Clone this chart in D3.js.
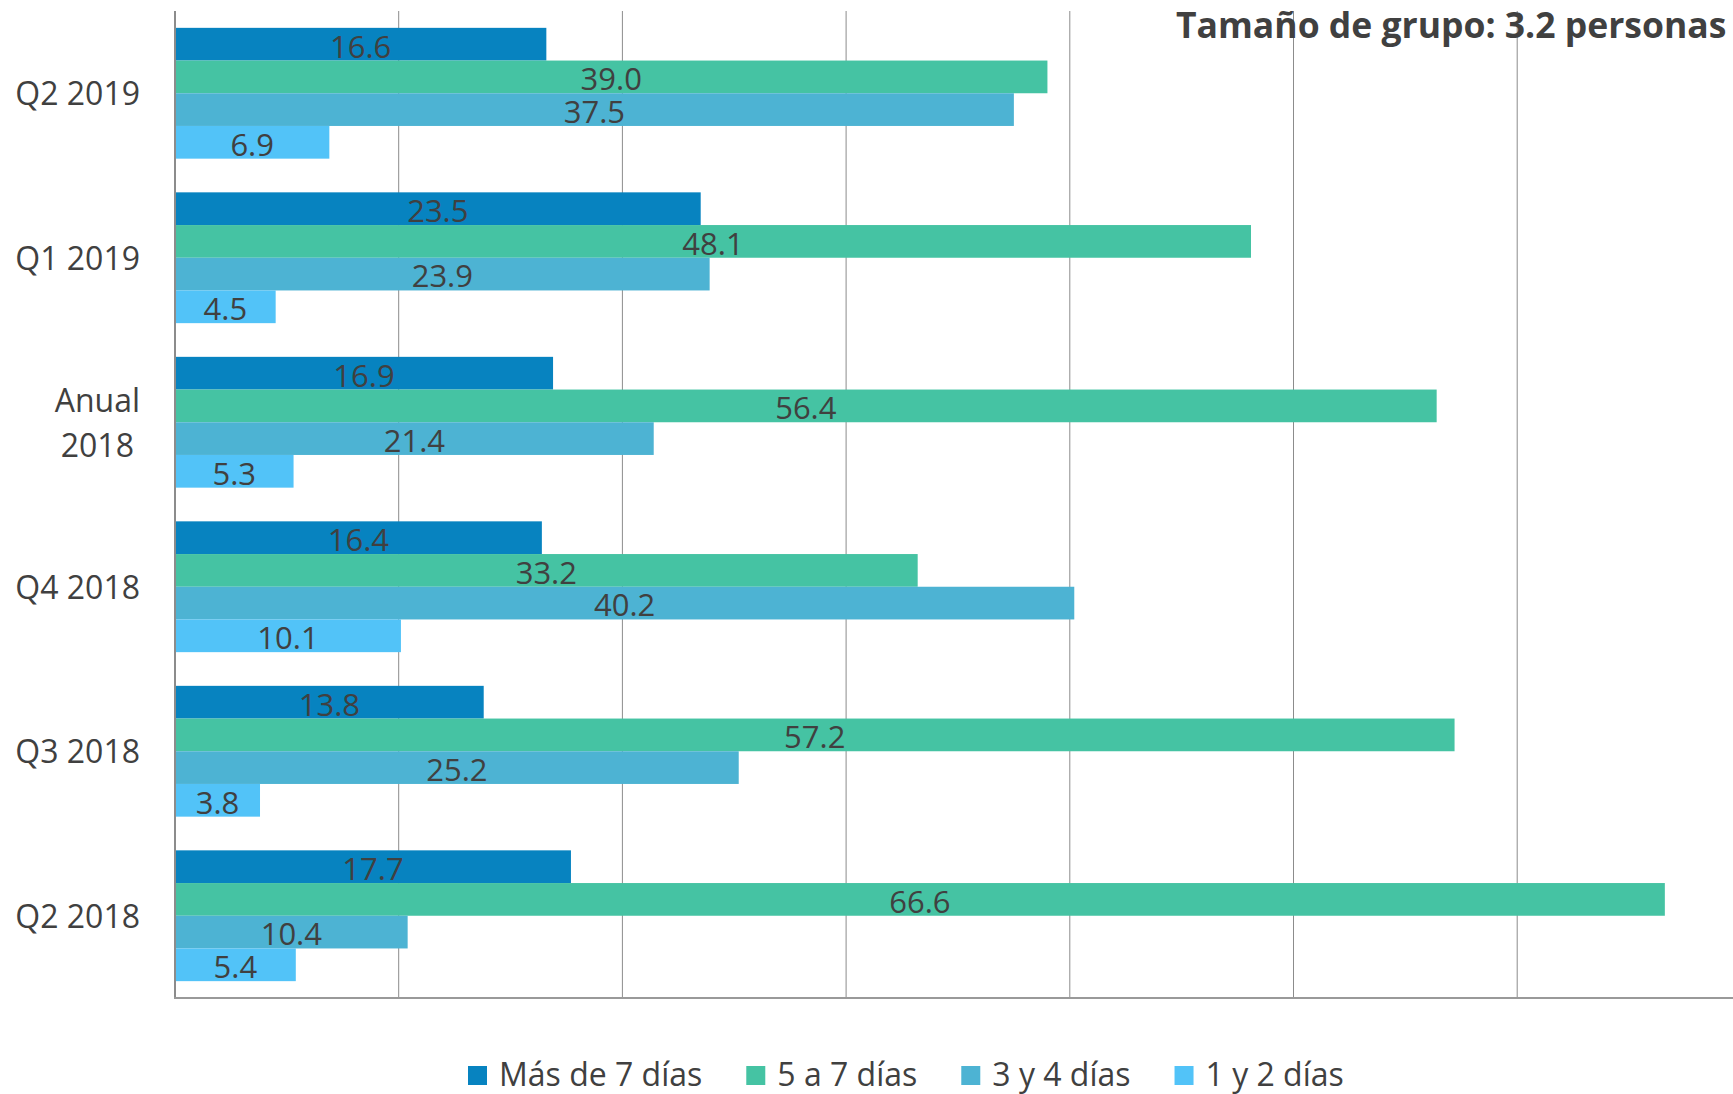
<meta charset="utf-8">

<style>
  body {
    margin: 0;
    background: #fff;
  }
  text {
    font-family: "Open Sans", sans-serif;
    fill: #404040;
  }
  .grid line {
    stroke: #8c8c8c;
    stroke-width: 1;
  }
</style>

<body>
  <script src="https://d3js.org/d3.v7.min.js" charset="utf-8"></script>

<script>

  // data, top group first
  const categories = ["Q2 2019", "Q1 2019", "Anual 2018", "Q4 2018", "Q3 2018", "Q2 2018"];
  const series = ["Más de 7 días", "5 a 7 días", "3 y 4 días", "1 y 2 días"];
  const masDe7 = [16.6, 23.5, 16.9, 16.4, 13.8, 17.7];
  const cincoA7 = [39.0, 48.1, 56.4, 33.2, 57.2, 66.6];
  const tresY4 = [37.5, 23.9, 21.4, 40.2, 25.2, 10.4];
  const unoY2 = [6.9, 4.5, 5.3, 10.1, 3.8, 5.4];
  const gridTicks = [10, 20, 30, 40, 50, 60];
  const title = "Tamaño de grupo: 3.2 personas";

  const colors = ["#0783c0", "#45c3a3", "#4db3d3", "#52c3f8"];
  const values = [masDe7, cincoA7, tresY4, unoY2];

  const width = 1733;
  const height = 1094;
  const margin = { top: 11, bottom: 96, left: 175 };

  const svg = d3
    .select("body")
    .append("svg")
    .attr("width", width)
    .attr("height", height);

  // the chart is cut on the right, 70 falls just past the edge
  const x = d3.scaleLinear().domain([0, 70]).range([margin.left, margin.left + 70 * 22.37]);

  const y = d3
    .scaleBand()
    .domain(categories)
    .range([margin.top, height - margin.bottom]);

  const ySeries = d3
    .scaleBand()
    .domain(series)
    .range([0, y.bandwidth()])
    .paddingOuter(0.515);

  // gridlines
  svg
    .append("g")
    .attr("class", "grid")
    .selectAll("line")
    .data(gridTicks)
    .join("line")
    .attr("x1", d => x(d))
    .attr("x2", d => x(d))
    .attr("y1", margin.top)
    .attr("y2", height - margin.bottom);

  // bars
  const rows = [];
  categories.forEach((c, i) => {
    series.forEach((s, j) => {
      rows.push({ cat: c, s: s, v: values[j][i], color: colors[j] });
    });
  });

  const group = svg.append("g");

  group
    .selectAll("rect")
    .data(rows)
    .join("rect")
    .attr("x", x(0))
    .attr("y", d => y(d.cat) + ySeries(d.s))
    .attr("width", d => x(d.v) - x(0))
    .attr("height", ySeries.bandwidth())
    .style("fill", d => d.color);

  group
    .selectAll("text")
    .data(rows)
    .join("text")
    .attr("x", d => (x(0) + x(d.v)) / 2)
    .attr("y", d => y(d.cat) + ySeries(d.s) + ySeries.bandwidth() - 3)
    .attr("text-anchor", "middle")
    .style("font-size", "31px")
    .text(d => d.v.toFixed(1));

  // axis lines
  svg
    .append("line")
    .attr("x1", x(0))
    .attr("x2", x(0))
    .attr("y1", margin.top)
    .attr("y2", height - margin.bottom)
    .style("stroke", "#8c8c8c")
    .style("stroke-width", 2);

  svg
    .append("line")
    .attr("x1", x(0) - 1)
    .attr("x2", width)
    .attr("y1", height - margin.bottom)
    .attr("y2", height - margin.bottom)
    .style("stroke", "#999")
    .style("stroke-width", 2);

  // category labels, long ones wrap to two lines
  const labelRight = 140;
  categories.forEach(c => {
    const cy = y(c) + y.bandwidth() / 2;
    const lines = c.startsWith("Anual") ? c.split(" ") : [c];
    const t = svg
      .append("g")
      .selectAll("text")
      .data(lines)
      .join("text")
      .style("font-size", "32px")
      .attr("y", (d, i) => cy + 12 + (i - (lines.length - 1) / 2) * 45)
      .text(d => d);
    const widths = t.nodes().map(n => n.getComputedTextLength());
    const maxW = d3.max(widths);
    t.attr("text-anchor", "middle").attr("x", labelRight - maxW / 2);
  });

  // title (runs off the right edge like the original)
  svg
    .append("text")
    .attr("x", 1176)
    .attr("y", 38)
    .style("font-size", "35.5px")
    .style("font-weight", "bold")
    .text(title);

  // legend
  const legend = svg.append("g");
  let lx = 468;
  series.forEach((s, i) => {
    legend
      .append("rect")
      .attr("x", lx)
      .attr("y", 1066)
      .attr("width", 19)
      .attr("height", 19)
      .style("fill", colors[i]);
    const t = legend
      .append("text")
      .attr("x", lx + 31)
      .attr("y", 1086)
      .style("font-size", "32px")
      .text(s);
    lx += 31 + t.node().getComputedTextLength() + 44;
  });
  </script>
</body>
